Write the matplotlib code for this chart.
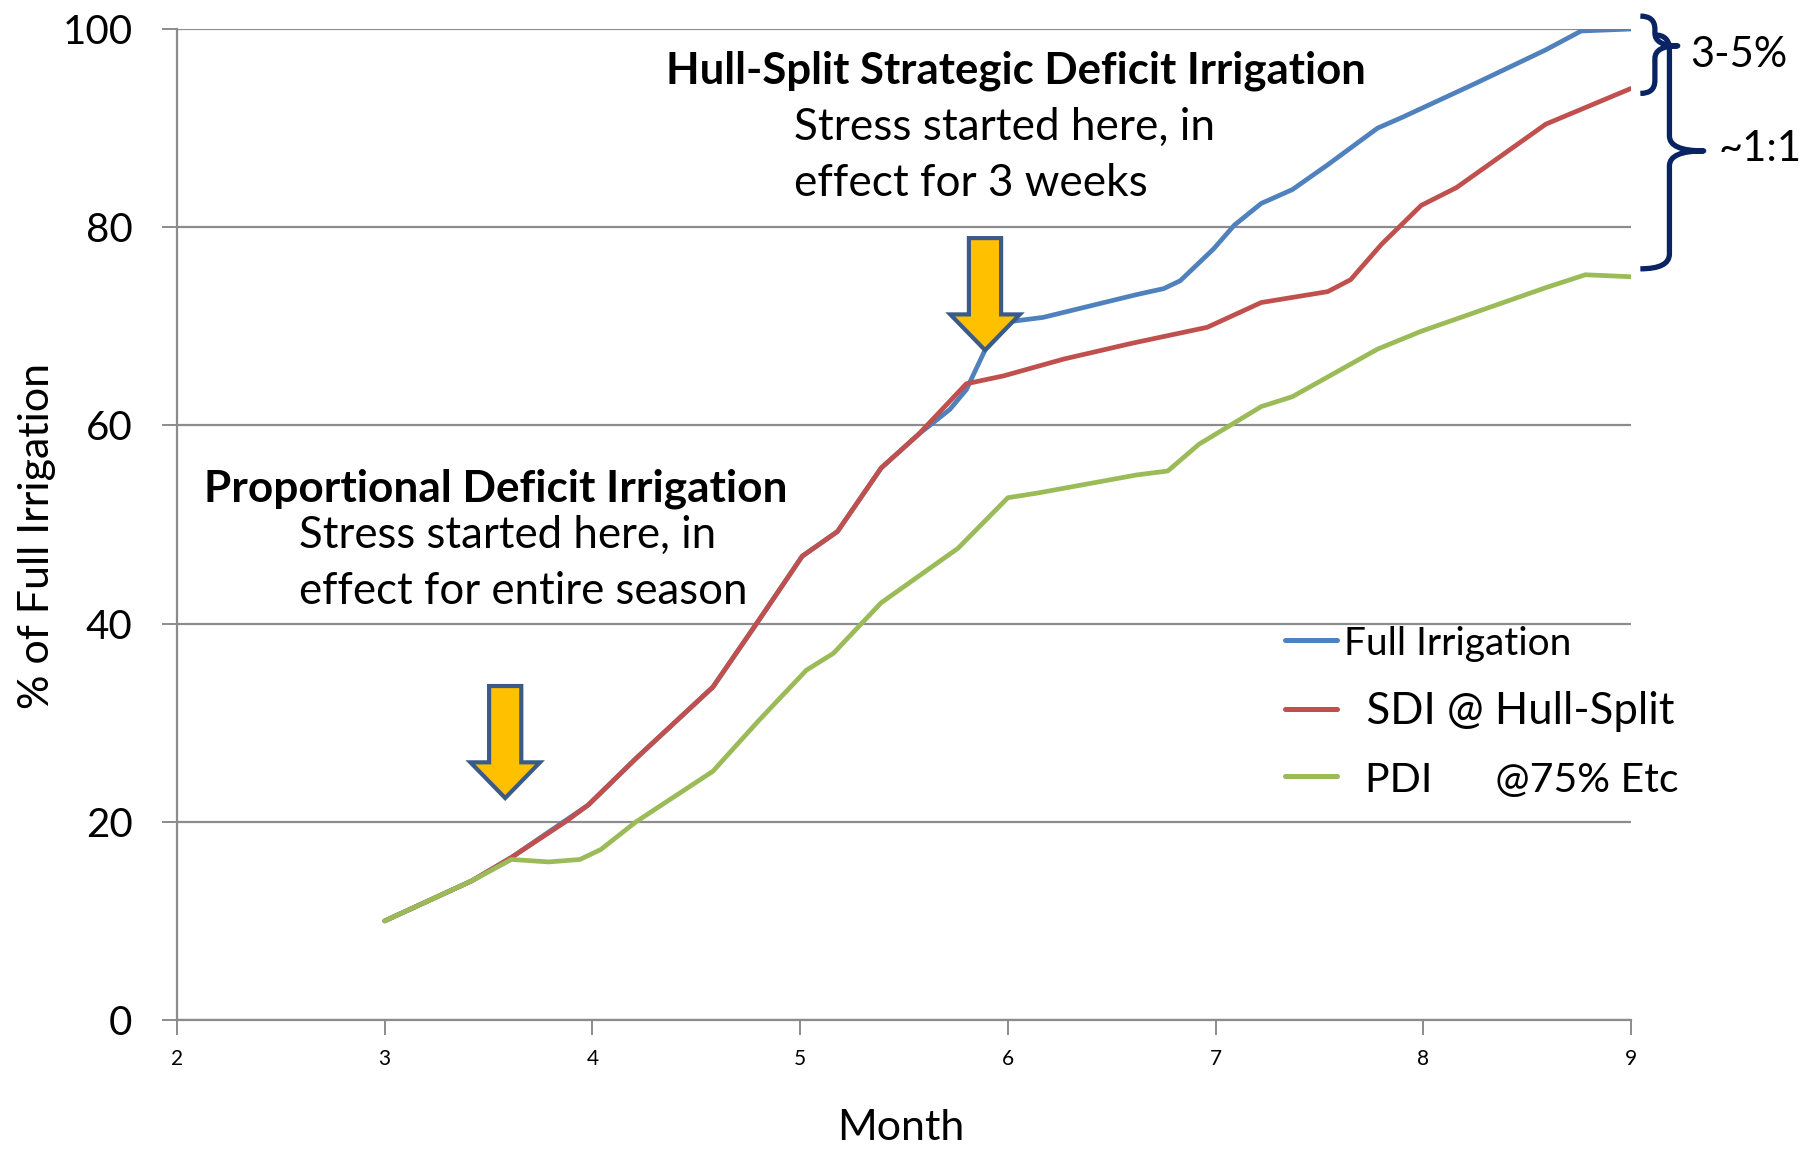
import matplotlib
matplotlib.use("Agg")
import matplotlib.pyplot as plt
from matplotlib.path import Path
from matplotlib.patches import PathPatch, FancyArrow

plt.rcParams['font.family'] = ['Lato', 'DejaVu Sans']

# ---- data ----
month_full = [3.0, 3.42, 3.61, 3.98, 4.21, 4.58, 4.79, 5.01, 5.18, 5.39, 5.57, 5.72, 5.80, 5.89,
              6.02, 6.17, 6.62, 6.75, 6.83, 6.99, 7.09, 7.22, 7.37, 7.54, 7.78, 7.90, 8.25, 8.59,
              8.76, 9.0]
full_irr   = [10.0, 14.05, 16.4, 21.7, 26.4, 33.6, 40.0, 46.8, 49.3, 55.7, 59.1, 61.6, 63.6, 67.6,
              70.5, 70.9, 73.2, 73.8, 74.6, 77.8, 80.2, 82.4, 83.8, 86.3, 90.0, 91.1, 94.5, 97.9,
              99.8, 100.0]

month_sdi = [3.0, 3.42, 3.61, 3.87, 3.98, 4.21, 4.58, 4.79, 5.01, 5.18, 5.39, 5.57, 5.80, 5.98,
             6.27, 6.60, 6.96, 7.22, 7.54, 7.65, 7.80, 7.99, 8.16, 8.59, 9.0]
sdi       = [10.0, 14.05, 16.4, 20.0, 21.7, 26.4, 33.6, 40.0, 46.8, 49.3, 55.7, 59.1, 64.2, 65.0,
             66.7, 68.3, 69.9, 72.4, 73.5, 74.7, 78.3, 82.2, 84.0, 90.4, 94.0]

month_pdi = [3.0, 3.42, 3.61, 3.79, 3.94, 4.04, 4.21, 4.58, 4.80, 5.03, 5.16, 5.39, 5.76, 6.0,
             6.15, 6.62, 6.77, 6.92, 7.22, 7.37, 7.78, 7.99, 8.59, 8.78, 9.0]
pdi       = [10.0, 14.05, 16.2, 15.95, 16.2, 17.2, 20.0, 25.1, 30.2, 35.3, 37.0, 42.1, 47.6, 52.7,
             53.2, 55.0, 55.4, 58.1, 61.9, 62.9, 67.7, 69.5, 73.9, 75.2, 75.0]

series_labels = ["Full Irrigation", "  SDI @ Hull-Split", "  PDI      @75% Etc"]
x_ticks = [2, 3, 4, 5, 6, 7, 8, 9]
y_ticks = [0, 20, 40, 60, 80, 100]

BLUE, RED, GREEN = "#4F81BD", "#C0504D", "#9BBB59"
GRID = "#8C8C8C"
NAVY = "#0A2463"

W, H = 1820, 1149
fig = plt.figure(figsize=(W / 100, H / 100), dpi=100)
ax = fig.add_axes([177 / W, 1 - 1020 / H, (1631 - 177) / W, (1020 - 29) / H])

lw = 3.4
l1, = ax.plot(month_full, full_irr, color=BLUE, lw=lw, solid_capstyle='round',
              solid_joinstyle='round', zorder=3)
l2, = ax.plot(month_sdi, sdi, color=RED, lw=lw, solid_capstyle='round',
              solid_joinstyle='round', zorder=3)
l3, = ax.plot(month_pdi, pdi, color=GREEN, lw=lw, solid_capstyle='round',
              solid_joinstyle='round', zorder=4)

ax.set_xlim(2, 9)
ax.set_ylim(0, 100)
ax.set_xticks(x_ticks)
ax.set_yticks(y_ticks)
ax.set_xticklabels([str(t) for t in x_ticks], fontsize=15)
ax.set_yticklabels([str(t) for t in y_ticks], fontsize=29)
ax.yaxis.grid(True, color=GRID, lw=1.6)
ax.set_axisbelow(True)
for s in ['top', 'right']:
    ax.spines[s].set_visible(False)
for s in ['left', 'bottom']:
    ax.spines[s].set_color(GRID)
    ax.spines[s].set_linewidth(1.6)
ax.tick_params(axis='y', length=11, width=1.4, color=GRID, pad=21)
ax.tick_params(axis='x', length=11, width=1.4, color=GRID, pad=10)

ax.set_xlabel("Month", fontsize=31)
ax.xaxis.set_label_coords(0.498, -0.09)
ax.set_ylabel("% of Full Irrigation", fontsize=31)
ax.yaxis.set_label_coords(-0.083, 0.488)

# ---- annotations ----
ax.text(6.04, 95.8, "Hull-Split Strategic Deficit Irrigation", fontsize=31.5,
        fontweight='bold', ha='center', va='center')
ax.text(4.97, 87.2, "Stress started here, in\neffect for 3 weeks", fontsize=31.8,
        ha='left', va='center', linespacing=1.45)
ax.text(3.535, 53.6, "Proportional Deficit Irrigation", fontsize=31.8,
        fontweight='bold', ha='center', va='center')
ax.text(2.589, 46.07, "Stress started here, in\neffect for entire season", fontsize=31.5,
        ha='left', va='center', linespacing=1.48)

# ---- block arrows ----
for xc, ytop, ytip in [(3.58, 33.7, 22.4), (5.89, 78.9, 67.6)]:
    ax.add_patch(FancyArrow(xc, ytop, 0, ytip - ytop, width=0.155, head_width=0.335,
                            head_length=3.6, length_includes_head=True,
                            facecolor="#FFC000", edgecolor="#3A5A88", lw=3.0, zorder=5))


# ---- braces (right of the plot) ----
def brace(xtop, xbot, xs, xt, ytop, ybot, ymid, rx, ry):
    verts = [(xtop, ytop), (xs, ytop), (xs, ytop - ry),
             (xs, ymid + ry),
             (xs, ymid), (xt, ymid),
             (xs, ymid), (xs, ymid - ry),
             (xs, ybot + ry),
             (xs, ybot), (xbot, ybot)]
    codes = [Path.MOVETO, Path.CURVE3, Path.CURVE3,
             Path.LINETO,
             Path.CURVE3, Path.CURVE3,
             Path.CURVE3, Path.CURVE3,
             Path.LINETO,
             Path.CURVE3, Path.CURVE3]
    ax.add_patch(PathPatch(Path(verts, codes), fill=False, edgecolor=NAVY, lw=3.8,
                           clip_on=False, capstyle='butt', joinstyle='round'))

brace(9.045, 9.045, 9.115, 9.225, 101.3, 93.5, 98.3, 0.07, 1.3)
brace(9.115, 9.045, 9.185, 9.35, 99.4, 75.8, 87.7, 0.13, 1.5)

ax.text(9.285, 97.4, "3-5%", fontsize=30, ha='left', va='center', clip_on=False)
ax.text(9.42, 87.9, "~1:1", fontsize=30, ha='left', va='center', clip_on=False)

# ---- legend ----
leg = ax.legend([l1, l2, l3], series_labels, loc='upper left',
                bbox_to_anchor=(0.762, 0.399), frameon=False, fontsize=31.5,
                handlelength=1.2, handletextpad=0.15, labelspacing=0.66,
                borderaxespad=0, borderpad=0)
leg.get_texts()[0].set_fontsize(28)
leg.get_texts()[2].set_fontsize(29.5)
for h in leg.legend_handles:
    h.set_linewidth(3.6)

fig.savefig("out.png", dpi=100)
